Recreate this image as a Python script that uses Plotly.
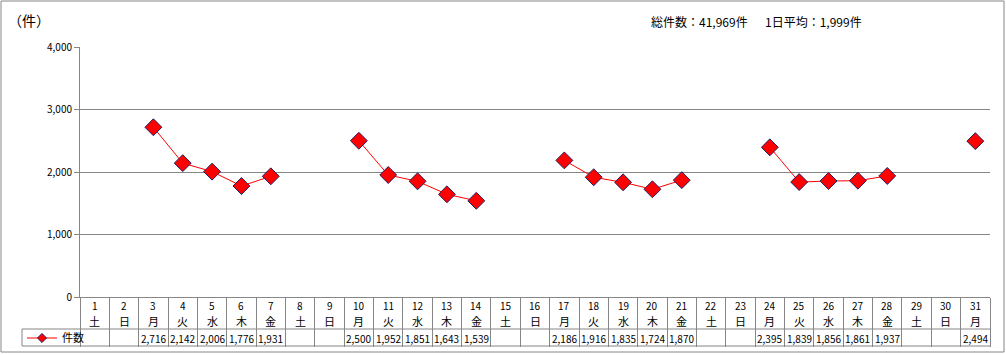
import plotly.graph_objects as go

days = list(range(1, 32))
weekdays = ["土", "日", "月", "火", "水", "木", "金"] * 5
weekdays = weekdays[:31]
counts = [None, None, 2716, 2142, 2006, 1776, 1931, None, None, 2500, 1952, 1851, 1643, 1539,
          None, None, 2186, 1916, 1835, 1724, 1870, None, None, 2395, 1839, 1856, 1861, 1937,
          None, None, 2494]
series_name = "件数"
unit_label = "（件）"
total_text = "総件数：41,969件"
avg_text = "1日平均：1,999件"
y_ticks = [0, 1000, 2000, 3000, 4000]

W, H = 1006, 355
L, R, T, B = 80, 16, 47, 58
pw, ph = W - L - R, H - T - B

def px_x(x):
    return (x - L) / pw

def px_y(y):
    return (H - B - y) / ph

FONT = "Noto Sans CJK JP, sans-serif"
GRAY = "#868686"

fig = go.Figure()
fig.add_trace(go.Scatter(
    x=days, y=counts, name=series_name, mode="lines+markers",
    connectgaps=False, showlegend=False,
    line=dict(color="#ff0000", width=1),
    marker=dict(symbol="diamond", size=13, color="#ff0000",
                line=dict(color="#202060", width=1)),
))
# legend entry (smaller glyph, like the reference legend key)
fig.add_trace(go.Scatter(
    x=[None], y=[None], name=series_name, mode="lines+markers",
    line=dict(color="#ff0000", width=1),
    marker=dict(symbol="diamond", size=7, color="#ff0000",
                line=dict(color="#202060", width=1)),
))

annotations = []
for d, wd, c in zip(days, weekdays, counts):
    annotations.append(dict(x=d, y=px_y(305), xref="x", yref="paper", text=str(d),
                            yanchor="middle", showarrow=False,
                            font=dict(size=10, color="black", family=FONT)))
    annotations.append(dict(x=d, y=px_y(321), xref="x", yref="paper", text=wd,
                            yanchor="middle", showarrow=False,
                            font=dict(size=11, color="black", family=FONT)))
    if c is not None:
        annotations.append(dict(x=d, y=px_y(338), xref="x", yref="paper", text=f"{c:,}",
                                yanchor="middle", showarrow=False,
                                font=dict(size=10, color="black", family=FONT)))

annotations.append(dict(x=px_x(6), y=px_y(20), xref="paper", yref="paper", text=unit_label,
                        xanchor="left", yanchor="middle", showarrow=False,
                        font=dict(size=14, color="black", family=FONT)))
annotations.append(dict(x=px_x(649), y=px_y(22), xref="paper", yref="paper", text=total_text,
                        xanchor="left", yanchor="middle", showarrow=False,
                        font=dict(size=12, color="black", family=FONT)))
annotations.append(dict(x=px_x(763), y=px_y(22), xref="paper", yref="paper", text=avg_text,
                        xanchor="left", yanchor="middle", showarrow=False,
                        font=dict(size=12, color="black", family=FONT)))

shapes = [
    dict(type="rect", xref="paper", yref="paper", x0=px_x(1), x1=px_x(1004), y0=px_y(352), y1=px_y(1),
         line=dict(color=GRAY, width=1)),
    dict(type="line", xref="paper", yref="paper", x0=px_x(22), x1=1, y0=px_y(329), y1=px_y(329),
         line=dict(color=GRAY, width=1)),
    dict(type="line", xref="paper", yref="paper", x0=px_x(22), x1=1, y0=px_y(346), y1=px_y(346),
         line=dict(color=GRAY, width=1)),
    dict(type="line", xref="paper", yref="paper", x0=px_x(22), x1=px_x(22), y0=px_y(329), y1=px_y(346),
         line=dict(color=GRAY, width=1)),
]

fig.update_layout(
    width=W, height=H,
    margin=dict(l=L, r=R, t=T, b=B, pad=0, autoexpand=False),
    paper_bgcolor="white", plot_bgcolor="white",
    font=dict(family=FONT, size=10, color="black"),
    showlegend=True,
    legend=dict(x=px_x(22), y=px_y(338), xanchor="left", yanchor="middle",
                bgcolor="rgba(0,0,0,0)", font=dict(size=11, family=FONT),
                itemwidth=30, borderwidth=0, tracegroupgap=0),
    annotations=annotations,
    shapes=shapes,
    xaxis=dict(range=[0.5, 31.5], showgrid=False, zeroline=False,
               showline=True, linecolor=GRAY, linewidth=1,
               tickmode="array", tickvals=[k + 0.5 for k in range(32)],
               ticks="outside", ticklen=49, tickcolor=GRAY, tickwidth=1,
               showticklabels=False, fixedrange=True),
    yaxis=dict(range=[0, 4000], tickmode="array", tickvals=y_ticks,
               ticktext=[f"{v:,}" for v in y_ticks],
               showgrid=True, gridcolor=GRAY, gridwidth=1,
               zeroline=False, showline=True, linecolor=GRAY, linewidth=1,
               ticks="outside", ticklen=5, tickcolor=GRAY,
               tickfont=dict(size=10, color="black", family=FONT), fixedrange=True),
)

fig.write_html("out.html", config={"displayModeBar": False},
               post_script="document.body.style.margin='0';document.body.style.overflow='hidden';")
